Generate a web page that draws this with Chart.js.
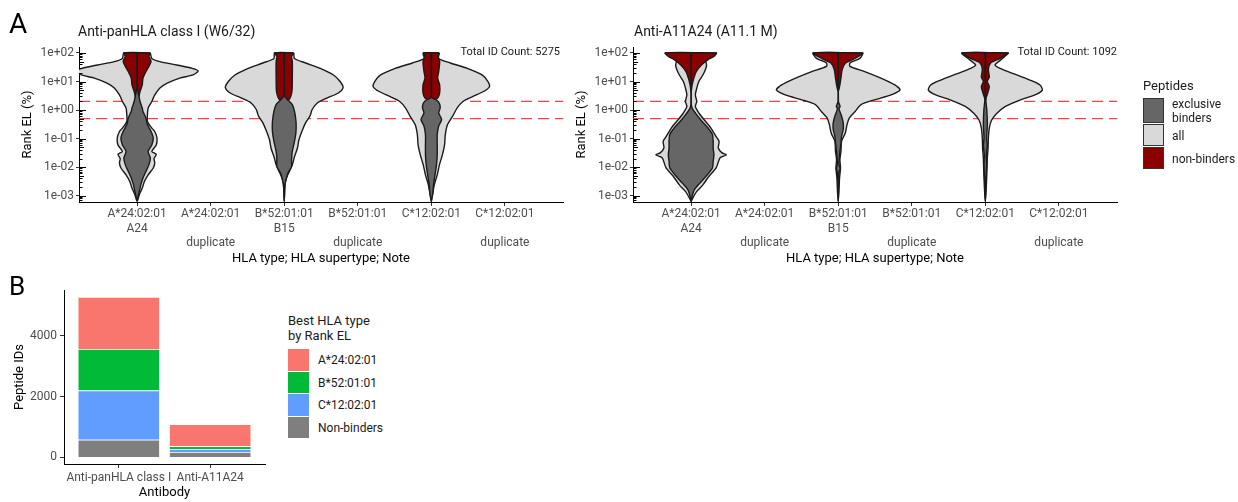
<!DOCTYPE html>
<html>
<head>
<meta charset="utf-8">
<script src="https://cdn.jsdelivr.net/npm/chart.js@4.4.1/dist/chart.umd.min.js"></script>
<style>
body { margin: 0; background: #fff; width: 1238px; height: 502px; position: relative; overflow: hidden; font-family: Roboto, sans-serif; }
canvas { position: absolute; }
.t { position: absolute; white-space: nowrap; color: #1a1a1a; line-height: 1; }
.key { position: absolute; box-sizing: border-box; width: 21px; }
</style>
</head>
<body>
<canvas id="vl" width="600" height="270" style="left:0;top:0"></canvas>
<canvas id="vr" width="600" height="270" style="left:554px;top:0"></canvas>
<canvas id="bars" width="280" height="232" style="left:0;top:270px"></canvas>

<div class="t" style="left:9px;top:9.5px;font-size:28px;color:#000">A</div>
<div class="t" style="left:9px;top:273px;font-size:26px;color:#000">B</div>
<div class="t" style="left:78px;top:24px;font-size:14px">Anti-panHLA class I (W6/32)</div>
<div class="t" style="left:634px;top:24px;font-size:14px">Anti-A11A24 (A11.1 M)</div>
<div class="t" id="countL" style="right:678px;top:45.5px;font-size:11px"></div>
<div class="t" id="countR" style="right:121px;top:45.5px;font-size:11px"></div>

<div class="t" style="left:1143px;top:78.5px;font-size:13px">Peptides</div>
<div class="key" style="left:1143px;top:98px;height:25px;background:#666666;border:1.5px solid #333"></div>
<div class="key" style="left:1143px;top:124px;height:22px;background:#d9d9d9;border:1.5px solid #333"></div>
<div class="key" style="left:1143px;top:147px;height:22px;background:#8b0000;border:1.5px solid #333"></div>
<div class="t" style="left:1172px;top:97px;font-size:12px;line-height:14.4px">exclusive<br>binders</div>
<div class="t" style="left:1172px;top:130px;font-size:12px">all</div>
<div class="t" style="left:1172px;top:153px;font-size:12px">non-binders</div>

<div class="t" style="left:288px;top:314px;font-size:13px;line-height:14.5px">Best HLA type<br>by Rank EL</div>
<div id="barLegend"></div>

<script>
// x axis of the violin panels: HLA type; supertype; note
const hlaLabels = [
    ['A*24:02:01', 'A24'], ['A*24:02:01', '', 'duplicate'],
    ['B*52:01:01', 'B15'], ['B*52:01:01', '', 'duplicate'],
    ['C*12:02:01', ''], ['C*12:02:01', '', 'duplicate']
];
const rankTicks = [1e-3, 1e-2, 1e-1, 1, 10, 100];
const rankCutoffs = [2, 0.5];
const totalCounts = [5275, 1092];

// violin outlines: [log10 Rank EL, half width in % of one category step]
// Anti-panHLA class I
const panA24All = [[2.0,18],[1.81,20],[1.70,31],[1.58,54],[1.46,75],[1.37,83],[1.23,76],[1.12,58],[0.94,41],[0.77,31],[0.53,24],[0.30,20],[0.07,15],[-0.17,14],[-0.40,14],[-0.63,20],[-0.75,24],[-0.98,27],[-1.22,26],[-1.45,20],[-1.55,26],[-1.70,23],[-1.85,24],[-2.03,22],[-2.27,15],[-2.50,10],[-2.73,7],[-2.97,3],[-3.14,1],[-3.2,0]];
const panA24Excl = [[2.0,0.3],[0.8,0.3],[0.55,2],[0.30,4],[0.07,7],[-0.05,8],[-0.28,12],[-0.51,14],[-0.75,19],[-0.98,22],[-1.22,20],[-1.45,15],[-1.68,18],[-1.92,16],[-2.15,12],[-2.38,8],[-2.62,5],[-2.85,3],[-3.08,1],[-3.15,0]];
const panA24Non = [[2.0,18],[1.88,16],[1.70,19],[1.53,16],[1.35,12],[1.12,8],[0.88,7],[0.65,4],[0.42,2],[0.25,0.4],[0.2,0]];
const panB52All = [[2.0,13],[1.81,14],[1.65,29],[1.46,49],[1.23,67],[1.00,76],[0.79,80],[0.59,73],[0.42,58],[0.25,45],[0.02,38],[-0.21,35],[-0.45,29],[-0.75,24],[-1.04,20],[-1.33,18],[-1.63,14],[-1.92,11],[-2.15,7],[-2.38,3],[-2.62,1],[-3.2,0]];
const panB52Excl = [[2.0,0.3],[0.5,0.3],[0.38,4],[0.19,11],[-0.05,14],[-0.40,16],[-0.75,16],[-1.10,14],[-1.45,11],[-1.74,10],[-1.98,10],[-2.21,5],[-2.38,3],[-2.62,1],[-3.2,0]];
const panB52Non = [[2.0,13],[1.88,10],[1.70,11],[1.12,11],[0.65,10.5],[0.42,8],[0.33,5],[0.28,0]];
const panC12All = [[2.0,11],[1.81,10],[1.65,26],[1.46,49],[1.23,69],[1.00,77],[0.82,79],[0.65,71],[0.47,56],[0.30,43],[0.07,35],[-0.21,29],[-0.51,22],[-0.86,19],[-1.22,18],[-1.57,15],[-1.92,11],[-2.27,8],[-2.62,4],[-2.91,2],[-3.14,0.4],[-3.2,0]];
const panC12Excl = [[2.0,0.3],[0.45,0.3],[0.35,7],[0.23,11],[0.07,12],[-0.10,10],[-0.33,14],[-0.56,10],[-0.86,8],[-1.22,8],[-1.57,8],[-1.92,7],[-2.27,5],[-2.62,3],[-2.91,2],[-3.14,0.4],[-3.2,0]];
const panC12Non = [[2.0,10.5],[1.88,8.6],[1.70,11.3],[1.35,10],[1.12,8.6],[0.88,11.3],[0.59,11.3],[0.42,8.6],[0.33,3],[0.28,0]];
// Anti-A11A24
const a11A24All = [[2.0,35],[1.77,20],[1.58,21],[1.46,20],[1.23,16],[1.00,10.5],[0.77,7.7],[0.53,5.8],[0.30,7.7],[0.12,5.8],[-0.12,11],[-0.35,18],[-0.63,27],[-0.93,34],[-1.10,38],[-1.33,37],[-1.50,42],[-1.57,48],[-1.66,40],[-1.74,38],[-2.03,34],[-2.33,24],[-2.62,16],[-2.85,7.7],[-3.08,2.3],[-3.2,0]];
const a11A24Excl = [[2.0,0.3],[0.2,0.3],[0.07,1.4],[-0.17,7.7],[-0.40,15],[-0.63,23],[-0.86,29],[-1.10,30],[-1.33,30],[-1.57,31],[-1.80,30],[-2.03,29],[-2.33,20],[-2.56,12],[-2.79,4.5],[-3.02,1.4],[-3.2,0]];
const a11A24Non = [[2.0,35],[1.88,31],[1.77,23],[1.58,14],[1.35,7],[1.12,3.7],[0.88,1.4],[0.65,0]];
const a11B52All = [[2.0,34],[1.81,29.5],[1.65,16],[1.53,16],[1.35,36],[1.12,58],[0.88,77],[0.70,84],[0.53,72],[0.35,48],[0.19,31],[-0.05,23],[-0.28,15],[-0.51,12],[-0.81,9.5],[-1.10,4.5],[-1.45,3.7],[-1.74,2.3],[-2.03,3.1],[-2.38,1.8],[-2.85,1],[-3.2,0]];
const a11B52Excl = [[2.0,0.3],[0.3,0.3],[0.19,1.8],[0.12,2.5],[0.05,1],[-0.21,4.5],[-0.45,6.8],[-0.68,6.8],[-0.93,4.5],[-1.17,3.7],[-1.45,2.3],[-1.74,1.4],[-1.9,1],[-2.05,2.7],[-2.2,1],[-2.62,0.4],[-3.2,0]];
const a11B52Non = [[2.0,34],[1.81,22.7],[1.65,10],[1.42,5.4],[1.12,3.7],[0.82,1.8],[0.65,0]];
const a11C12All = [[2.0,31.7],[1.77,21.7],[1.58,13.2],[1.46,20],[1.28,38],[1.05,60.7],[0.88,74.3],[0.70,77.4],[0.53,67.5],[0.35,47],[0.12,26.8],[-0.12,15.4],[-0.35,8.6],[-0.63,5.4],[-0.98,4.1],[-1.33,3.7],[-1.68,2.7],[-2.03,2.3],[-2.38,1.8],[-2.85,1],[-3.2,0]];
const a11C12Excl = [[2.0,0.3],[0.42,0.4],[0,2],[-0.51,2.7],[-0.98,1.8],[-1.22,2.7],[-1.57,1.4],[-1.92,1.8],[-2.38,1],[-2.85,0.4],[-3.2,0]];
const a11C12Non = [[2.0,31.7],[1.81,20],[1.65,7.2],[1.42,4.1],[1.16,5.4],[1.00,2.7],[0.82,5.4],[0.59,3.1],[0.42,1],[0.30,0]];

// panel B: peptide IDs by best HLA type
const antibodies = ['Anti-panHLA class I', 'Anti-A11A24'];
const bestTypes = ['A*24:02:01', 'B*52:01:01', 'C*12:02:01', 'Non-binders'];
const idsA24 = [1711, 727];
const idsB52 = [1367, 85];
const idsC12 = [1617, 100];
const idsNon = [580, 180];
const idTicks = [0, 2000, 4000];
const typeColours = ['#F8766D', '#00BA38', '#619CFF', '#7F7F7F'];

const xRange = [-0.79, 5.79];
const logRange = [-3.21, 2.21];
const tickFont = {family: 'Roboto', size: 12};
const titleFont = {family: 'Roboto', size: 13};

function sciLabel(v) {
    let e = Math.round(Math.log10(v));
    return '1e' + (e < 0 ? '-' : '+') + String(Math.abs(e)).padStart(2, '0');
}

// closed outline of one violin around category cx
function violin(shape, cx, colour, order) {
    let right = shape.map(p => ({x: cx + p[1] / 100, y: Math.pow(10, p[0])}));
    let left = shape.slice(0, -1).reverse().map(p => ({x: cx - p[1] / 100, y: Math.pow(10, p[0])}));
    return {
        type: 'line',
        data: right.concat(left, [right[0]]),
        fill: 'shape',
        backgroundColor: colour,
        borderColor: '#1a1a1a',
        borderWidth: 1.4,
        pointRadius: 0,
        tension: 0.25,
        order: order
    };
}

// small log ticks along the inside of the y axis
const logTicks = {
    id: 'logTicks',
    afterDatasetsDraw(chart) {
        let y = chart.scales.y;
        let x0 = chart.chartArea.left;
        let ctx = chart.ctx;
        ctx.save();
        ctx.strokeStyle = '#000';
        ctx.lineWidth = 1;
        for (let e = -4; e <= 2; e++) {
            for (let k = 1; k <= 9; k++) {
                let v = k * Math.pow(10, e);
                if (v < y.min || v > y.max) continue;
                let py = Math.round(y.getPixelForValue(v)) + 0.5;
                let len = k == 1 ? 7 : (k == 5 ? 5 : 3.5);
                ctx.beginPath();
                ctx.moveTo(x0, py);
                ctx.lineTo(x0 + len, py);
                ctx.stroke();
            }
        }
        ctx.restore();
    }
};

function violinChart(id, violins) {
    let datasets = [];
    rankCutoffs.forEach(c => {
        datasets.push({
            type: 'line',
            data: [{x: xRange[0], y: c}, {x: xRange[1], y: c}],
            borderColor: 'rgba(255,30,30,0.85)',
            borderDash: [11, 6],
            borderWidth: 1.3,
            pointRadius: 0,
            fill: false,
            order: 4
        });
    });
    violins.forEach(v => {
        datasets.push(violin(v[1], v[0], '#d9d9d9', 3));
        datasets.push(violin(v[3], v[0], '#8b0000', 2));
        datasets.push(violin(v[2], v[0], '#666666', 1));
    });

    new Chart(document.getElementById(id), {
        type: 'line',
        data: {datasets: datasets},
        options: {
            responsive: false,
            animation: false,
            devicePixelRatio: 1,
            events: [],
            layout: {padding: {left: 12, top: 47, right: 37, bottom: 0}},
            plugins: {legend: {display: false}, tooltip: {enabled: false}},
            scales: {
                x: {
                    type: 'linear',
                    min: xRange[0],
                    max: xRange[1],
                    offset: false,
                    afterBuildTicks: s => { s.ticks = hlaLabels.map((l, i) => ({value: i})); },
                    afterFit: s => { s.height = 68; },
                    ticks: {
                        callback: (v, i) => hlaLabels[i],
                        color: '#4d4d4d',
                        font: tickFont,
                        padding: 1,
                        maxRotation: 0,
                        autoSkip: false
                    },
                    grid: {drawOnChartArea: false, offset: false, tickLength: 4, color: '#333'},
                    border: {color: '#000', width: 1},
                    title: {display: true, text: 'HLA type; HLA supertype; Note', color: '#000', font: titleFont, padding: {top: 0, bottom: 3}}
                },
                y: {
                    type: 'logarithmic',
                    min: Math.pow(10, logRange[0]),
                    max: Math.pow(10, logRange[1]),
                    afterBuildTicks: s => { s.ticks = rankTicks.map(v => ({value: v})); },
                    afterFit: s => { s.width = 67; },
                    ticks: {callback: v => sciLabel(v), color: '#4d4d4d', font: tickFont, padding: 2},
                    grid: {drawOnChartArea: false, tickLength: 3, color: '#333'},
                    border: {color: '#000', width: 1},
                    title: {display: true, text: 'Rank EL (%)', color: '#000', font: titleFont, padding: {top: 8, bottom: 0}}
                }
            }
        },
        plugins: [logTicks]
    });
}

violinChart('vl', [
    [0, panA24All, panA24Excl, panA24Non],
    [2, panB52All, panB52Excl, panB52Non],
    [4, panC12All, panC12Excl, panC12Non]
]);
violinChart('vr', [
    [0, a11A24All, a11A24Excl, a11A24Non],
    [2, a11B52All, a11B52Excl, a11B52Non],
    [4, a11C12All, a11C12Excl, a11C12Non]
]);

document.getElementById('countL').textContent = 'Total ID Count: ' + totalCounts[0];
document.getElementById('countR').textContent = 'Total ID Count: ' + totalCounts[1];

// stacked bars, bottom segment first
let stackOrder = [[idsNon, 3], [idsC12, 2], [idsB52, 1], [idsA24, 0]];
let barSets = stackOrder.map(s => ({
    label: bestTypes[s[1]],
    data: antibodies.map((a, i) => ({x: i + 1, y: s[0][i]})),
    backgroundColor: typeColours[s[1]],
    borderColor: '#ffffff',
    borderWidth: 0.8,
    categoryPercentage: 1,
    barPercentage: 0.9
}));

new Chart(document.getElementById('bars'), {
    type: 'bar',
    data: {datasets: barSets},
    options: {
        responsive: false,
        animation: false,
        devicePixelRatio: 1,
        events: [],
        layout: {padding: {left: 8, top: 20, right: 15, bottom: 0}},
        plugins: {legend: {display: false}, tooltip: {enabled: false}},
        scales: {
            x: {
                type: 'linear',
                min: 0.4,
                max: 2.6,
                offset: false,
                stacked: true,
                afterBuildTicks: s => { s.ticks = antibodies.map((a, i) => ({value: i + 1})); },
                afterFit: s => { s.height = 38; },
                ticks: {callback: (v, i) => antibodies[i], color: '#4d4d4d', font: tickFont, padding: 3, maxRotation: 0, autoSkip: false},
                grid: {drawOnChartArea: false, offset: false, tickLength: 4, color: '#333'},
                border: {color: '#000', width: 1},
                title: {display: true, text: 'Antibody', color: '#000', font: titleFont, padding: {top: 0, bottom: 1}}
            },
            y: {
                min: -216,
                max: 5500,
                stacked: true,
                afterBuildTicks: s => { s.ticks = idTicks.map(v => ({value: v})); },
                afterFit: s => { s.width = 56; },
                ticks: {callback: v => String(v), color: '#4d4d4d', font: tickFont, padding: 3},
                grid: {drawOnChartArea: false, tickLength: 4, color: '#333'},
                border: {color: '#000', width: 1},
                title: {display: true, text: 'Peptide IDs', color: '#000', font: titleFont, padding: {top: 4, bottom: 0}}
            }
        }
    }
});

// legend for panel B
let legTops = [349, 371.5, 394, 416.5];
let legHtml = '';
bestTypes.forEach((t, i) => {
    legHtml += '<div class="key" style="left:288px;top:' + legTops[i] + 'px;height:21.5px;background:' + typeColours[i] + '"></div>';
    legHtml += '<div class="t" style="left:318px;top:' + (legTops[i] + 5) + 'px;font-size:12px">' + t + '</div>';
});
document.getElementById('barLegend').innerHTML = legHtml;
</script>
</body>
</html>
